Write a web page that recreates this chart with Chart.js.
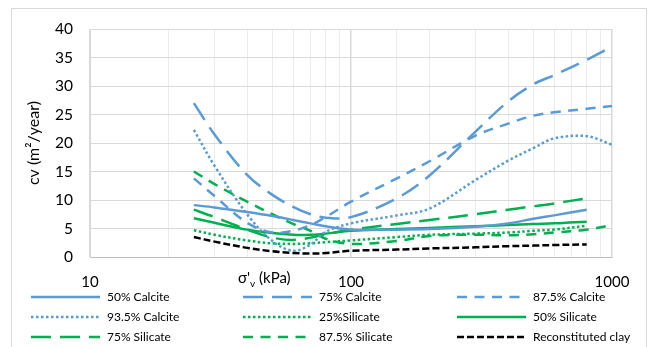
<!DOCTYPE html>
<html>
<head>
<meta charset="utf-8">
<script src="https://cdn.jsdelivr.net/npm/chart.js@4.4.0/dist/chart.umd.min.js"></script>
<style>
  html, body { margin: 0; padding: 0; background: #fff; }
  #wrap { width: 648px; height: 347px; }
</style>
</head>
<body>
<div id="wrap"><canvas id="cv" width="648" height="347"></canvas></div>
<script>
// effective vertical stress (kPa), shared x values; null = no reading there
const pressure    = [25,   30,   40,   50,   60,   70,   80,   100,  150,  200,  300,  400,  500,  600,  800,  950,  1000];
const calcite50   = [9.1,  8.7,  7.9,  7.2,  6.5,  5.9,  5.4,  4.8,  4.8,  4.9,  5.3,  5.9,  6.7,  7.3,  8.3,  null, null];
const calcite75   = [27.0, 21.5, 14.4, 10.9, 8.8,  7.5,  6.9,  7.0,  10.3, 14.3, 22.0, 27.3, 30.3, 31.9, 34.6, 36.4, null];
const calcite875  = [13.8, 10.7, 6.0,  4.3,  4.6,  5.6,  7.0,  9.7,  13.8, 16.8, 21.3, 23.4, 24.8, 25.4, 26.0, null, 26.5];
const calcite935  = [22.3, 16.0, 7.5,  2.8,  1.1,  2.2,  4.4,  5.9,  7.3,  8.5,  13.5, 16.9, 19.1, 20.8, 21.2, null, 19.7];
const silicate25  = [4.7,  3.9,  2.9,  2.4,  2.3,  2.4,  2.6,  2.9,  3.5,  3.9,  4.1,  4.3,  4.6,  4.8,  5.5,  null, null];
const silicate50  = [6.8,  6.0,  4.8,  4.2,  3.9,  3.9,  4.1,  4.6,  4.9,  5.1,  5.4,  5.6,  5.8,  5.9,  6.2,  null, null];
const silicate75  = [8.3,  7.0,  4.8,  3.4,  3.0,  3.4,  4.0,  4.8,  5.8,  6.5,  7.5,  8.3,  8.9,  9.4,  10.3, null, null];
const silicate875 = [15.0, 12.8, 9.7,  7.5,  5.8,  4.6,  3.2,  2.3,  2.8,  3.7,  3.9,  3.8,  4.0,  4.3,  4.8,  null, 5.6];
const clay        = [3.5,  2.7,  1.6,  1.0,  0.7,  0.6,  0.7,  1.1,  1.3,  1.5,  1.7,  1.9,  2.0,  2.1,  2.2,  null, null];

const seriesLabels = ['50% Calcite', '75% Calcite', '87.5% Calcite', '93.5% Calcite', '25%Silicate',
                      '50% Silicate', '75% Silicate', '87.5% Silicate', 'Reconstituted clay'];
const seriesValues = [calcite50, calcite75, calcite875, calcite935, silicate25,
                      silicate50, silicate75, silicate875, clay];
const xTickLabels = [10, 100, 1000];

const BLUE = '#5B9BD5', GREEN = '#00B050', BLACK = '#000000';
const SOLID = [], LONG = [20, 9], DASH = [10, 7.5], DOT = [2.5, 2.5], SYSDASH = [7, 3];
const looks = [
  [BLUE, SOLID], [BLUE, LONG], [BLUE, DASH], [BLUE, DOT], [GREEN, DOT],
  [GREEN, SOLID], [GREEN, LONG], [GREEN, DASH], [BLACK, SYSDASH]
];

const datasets = seriesLabels.map((label, i) => ({
  label: label,
  data: pressure
    .map((p, j) => ({ x: p, y: seriesValues[i][j] }))
    .filter(pt => pt.y !== null),
  borderColor: looks[i][0],
  borderDash: looks[i][1],
  borderWidth: 2.5,
  borderCapStyle: 'butt',
  pointRadius: 0,
  fill: false,
  tension: 0.35,
}));

Chart.defaults.font.family = 'Lato, "Open Sans", sans-serif';
Chart.defaults.color = '#000';

// outer frame, x title with subscript, 3-column legend under the plot
const extras = {
  id: 'extras',
  beforeDraw(chart) {
    const ctx = chart.ctx;
    ctx.save();
    ctx.fillStyle = '#fff';
    ctx.fillRect(0, 0, chart.width, chart.height);
    ctx.strokeStyle = '#d9d9d9';
    ctx.lineWidth = 1;
    ctx.strokeRect(11.5, 8.5, 635, 345);
    ctx.restore();
  },
  afterDraw(chart) {
    const ctx = chart.ctx;
    ctx.save();
    // x axis title
    ctx.fillStyle = '#000';
    ctx.textBaseline = 'alphabetic';
    ctx.font = '15px Lato';
    let x = 238;
    ctx.fillText("\u03C3'", x, 283);
    x += ctx.measureText("\u03C3'").width;
    ctx.font = '10px Lato';
    ctx.fillText('v', x, 287);
    x += ctx.measureText('v').width;
    ctx.font = '15px Lato';
    ctx.fillText(' (kPa)', x, 283);

    // legend
    const colX = [31, 243, 457];
    const rowY = [297, 317, 337];
    ctx.font = '12px Lato';
    ctx.textBaseline = 'middle';
    chart.data.datasets.forEach((ds, i) => {
      const cx = colX[i % 3], cy = rowY[Math.floor(i / 3)];
      ctx.beginPath();
      ctx.setLineDash(ds.borderDash);
      ctx.lineCap = 'butt';
      ctx.strokeStyle = ds.borderColor;
      ctx.lineWidth = ds.borderWidth;
      ctx.moveTo(cx, cy);
      ctx.lineTo(cx + 69, cy);
      ctx.stroke();
      ctx.setLineDash([]);
      ctx.fillStyle = '#000';
      ctx.fillText(ds.label, cx + 76, cy);
    });
    ctx.restore();
  }
};

new Chart(document.getElementById('cv'), {
  type: 'line',
  data: { datasets: datasets },
  plugins: [extras],
  options: {
    responsive: false,
    animation: false,
    layout: { padding: { left: 0, top: 29, right: 36, bottom: 0 } },
    plugins: { legend: { display: false }, tooltip: { enabled: false } },
    scales: {
      x: {
        type: 'logarithmic',
        min: 10,
        max: 1000,
        afterFit(scale) { scale.height = 90; },
        grid: {
          drawTicks: false,
          color: c => (c.tick && Number.isInteger(Math.log10(c.tick.value)) ? '#d9d9d9' : '#ececec'),
          lineWidth: c => (c.tick && Number.isInteger(Math.log10(c.tick.value)) ? 1.5 : 1),
        },
        border: { color: '#bfbfbf', width: 1 },
        ticks: {
          autoSkip: false,
          maxRotation: 0,
          padding: 16,
          font: { size: 15 },
          callback: v => (xTickLabels.includes(v) ? String(v) : ''),
        },
      },
      y: {
        min: 0,
        max: 40,
        afterFit(scale) { scale.width = 90; },
        grid: { drawTicks: false, color: '#d9d9d9' },
        border: { color: '#d9d9d9' },
        ticks: { stepSize: 5, padding: 17, font: { size: 15.5 } },
        title: {
          display: true,
          text: 'cv (m\u00B2/year)',
          font: { size: 16 },
          padding: { top: 24, bottom: 0 },
        },
      },
    },
  },
});
</script>
</body>
</html>
